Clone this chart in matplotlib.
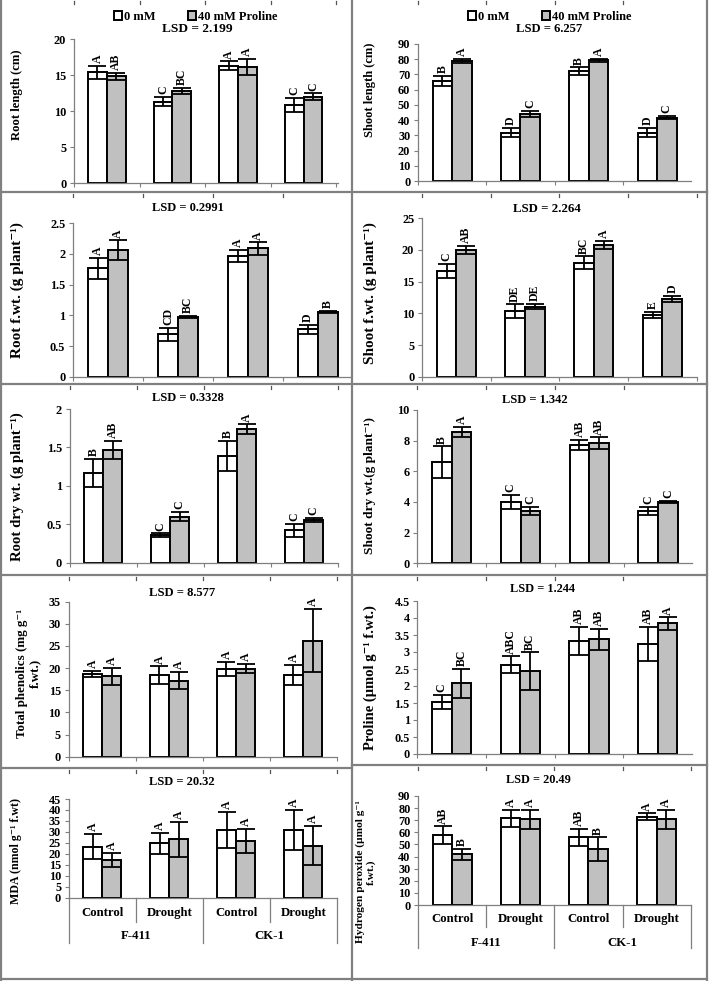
import matplotlib
matplotlib.use('Agg')
import matplotlib.pyplot as plt
from matplotlib.lines import Line2D
from matplotlib.ticker import FuncFormatter, FixedLocator, NullLocator
import matplotlib.transforms as mtrans
import numpy as np

plt.rcParams['font.family'] = ['Liberation Serif', 'DejaVu Serif']
plt.rcParams['font.weight'] = 'bold'

# ---------------- data ----------------
treatments = ['Control', 'Drought', 'Control', 'Drought']
varieties = ['F-411', 'CK-1']
series_names = ['0 mM', '40 mM Proline']

root_length_0 = [15.35, 11.3, 16.3, 10.8]
root_length_0_err = [0.95, 0.65, 0.6, 1.0]
root_length_40 = [14.8, 12.8, 16.1, 12.0]
root_length_40_err = [0.5, 0.45, 1.15, 0.45]
root_length_let_0 = ['A', 'C', 'A', 'C']
root_length_let_40 = ['AB', 'BC', 'A', 'C']

shoot_length_0 = [65.8, 31.8, 72.0, 31.8]
shoot_length_0_err = [3.3, 3.0, 2.6, 3.0]
shoot_length_40 = [78.6, 44.2, 79.2, 41.6]
shoot_length_40_err = [1.4, 2.0, 1.0, 1.0]
shoot_length_let_0 = ['B', 'D', 'B', 'D']
shoot_length_let_40 = ['A', 'C', 'A', 'C']

root_fwt_0 = [1.77, 0.69, 1.97, 0.77]
root_fwt_0_err = [0.17, 0.11, 0.10, 0.08]
root_fwt_40 = [2.06, 0.97, 2.09, 1.05]
root_fwt_40_err = [0.16, 0.02, 0.10, 0.02]
root_fwt_let_0 = ['A', 'CD', 'A', 'D']
root_fwt_let_40 = ['A', 'BC', 'A', 'B']

shoot_fwt_0 = [16.7, 10.3, 18.0, 9.75]
shoot_fwt_0_err = [1.1, 1.1, 1.0, 0.5]
shoot_fwt_40 = [20.0, 11.05, 20.8, 12.25]
shoot_fwt_40_err = [0.7, 0.4, 0.6, 0.5]
shoot_fwt_let_0 = ['C', 'DE', 'BC', 'E']
shoot_fwt_let_40 = ['AB', 'DE', 'A', 'D']

root_dwt_0 = [1.17, 0.36, 1.39, 0.42]
root_dwt_0_err = [0.18, 0.02, 0.20, 0.09]
root_dwt_40 = [1.465, 0.60, 1.74, 0.555]
root_dwt_40_err = [0.12, 0.06, 0.06, 0.03]
root_dwt_let_0 = ['B', 'C', 'B', 'C']
root_dwt_let_40 = ['AB', 'C', 'A', 'C']

shoot_dwt_0 = [6.59, 4.02, 7.72, 3.41]
shoot_dwt_0_err = [1.03, 0.46, 0.33, 0.25]
shoot_dwt_40 = [8.59, 3.43, 7.83, 3.98]
shoot_dwt_40_err = [0.33, 0.25, 0.38, 0.07]
shoot_dwt_let_0 = ['B', 'C', 'AB', 'C']
shoot_dwt_let_40 = ['A', 'C', 'AB', 'C']

phenolics_0 = [18.7, 18.4, 19.8, 18.4]
phenolics_0_err = [0.75, 2.0, 1.6, 2.25]
phenolics_40 = [18.2, 17.2, 19.9, 26.2]
phenolics_40_err = [1.9, 2.0, 1.05, 7.1]
phenolics_let_0 = ['A', 'A', 'A', 'A']
phenolics_let_40 = ['A', 'A', 'A', 'A']

proline_0 = [1.53, 2.62, 3.33, 3.24]
proline_0_err = [0.20, 0.25, 0.42, 0.51]
proline_40 = [2.08, 2.44, 3.37, 3.84]
proline_40_err = [0.43, 0.55, 0.30, 0.18]
proline_let_0 = ['C', 'ABC', 'AB', 'AB']
proline_let_40 = ['BC', 'BC', 'AB', 'A']

mda_0 = [23.3, 24.8, 30.9, 30.9]
mda_0_err = [5.7, 4.9, 8.2, 9.1]
mda_40 = [17.2, 26.6, 25.8, 23.7]
mda_40_err = [3.2, 8.1, 5.5, 9.0]
mda_let_0 = ['A', 'A', 'A', 'A']
mda_let_40 = ['A', 'A', 'A', 'A']

h2o2_0 = [57.8, 71.6, 55.9, 72.9]
h2o2_0_err = [7.2, 6.9, 7.0, 2.75]
h2o2_40 = [41.8, 70.7, 46.2, 70.7]
h2o2_40_err = [4.8, 7.8, 9.6, 7.6]
h2o2_let_0 = ['AB', 'A', 'AB', 'A']
h2o2_let_40 = ['B', 'A', 'B', 'A']

lsd_values = ['2.199', '6.257', '0.2991', '2.264', '0.3328', '1.342',
              '8.577', '1.244', '20.32', '20.49']

# ---------------- layout (pixels) ----------------
W, H = 709, 981
fig = plt.figure(figsize=(W / 100, H / 100), dpi=100)
fig.patch.set_facecolor('white')


def fx(x):
    return x / W


def fy(y):
    return 1 - y / H


GRAY_AX = '#7f7f7f'
BAR_GRAY = '#c0c0c0'

# yl = (center x, center y, fontsize); lsd = (center x, center y, fontsize)
panels = [
    dict(v0=root_length_0, e0=root_length_0_err, v1=root_length_40, e1=root_length_40_err,
         l0=root_length_let_0, l1=root_length_let_40, ylabel='Root length (cm)',
         L=74, s=65.6, R=338, y0=183, yt=39, ymax=20, step=5, lsd=(197, 29, 9.6),
         yl=(17, 95, 9.1), top=0, legend=(196, 17)),
    dict(v0=shoot_length_0, e0=shoot_length_0_err, v1=shoot_length_40, e1=shoot_length_40_err,
         l0=shoot_length_let_0, l1=shoot_length_let_40, ylabel='Shoot length (cm)',
         L=418, s=68.3, R=691, y0=181, yt=44, ymax=90, step=10, lsd=(549, 29, 9.1),
         yl=(370, 90, 9.0), top=0, legend=(550, 17)),
    dict(v0=root_fwt_0, e0=root_fwt_0_err, v1=root_fwt_40, e1=root_fwt_40_err,
         l0=root_fwt_let_0, l1=root_fwt_let_40, ylabel='Root f.wt. (g plant⁻¹)',
         L=73, s=70, R=351, y0=376.7, yt=223.3, ymax=2.5, step=0.5, lsd=(188, 208, 9.0),
         yl=(17, 290, 11.0), top=193),
    dict(v0=shoot_fwt_0, e0=shoot_fwt_0_err, v1=shoot_fwt_40, e1=shoot_fwt_40_err,
         l0=shoot_fwt_let_0, l1=shoot_fwt_let_40, ylabel='Shoot f.wt. (g plant⁻¹)',
         L=422, s=68.7, R=697, y0=376.7, yt=218.3, ymax=25, step=5, lsd=(547, 209, 9.3),
         yl=(370, 293, 11.0), top=193),
    dict(v0=root_dwt_0, e0=root_dwt_0_err, v1=root_dwt_40, e1=root_dwt_40_err,
         l0=root_dwt_let_0, l1=root_dwt_let_40, ylabel='Root dry wt. (g plant⁻¹)',
         L=69.5, s=67, R=337.5, y0=562.7, yt=409, ymax=2, step=0.5, lsd=(188, 398, 9.0),
         yl=(17, 487, 10.6), top=385),
    dict(v0=shoot_dwt_0, e0=shoot_dwt_0_err, v1=shoot_dwt_40, e1=shoot_dwt_40_err,
         l0=shoot_dwt_let_0, l1=shoot_dwt_let_40, ylabel='Shoot dry wt.(g plant⁻¹)',
         L=417.3, s=68.8, R=692, y0=563.3, yt=410, ymax=10, step=2, lsd=(535, 400, 9.0),
         yl=(370, 486, 9.6), top=385),
    dict(v0=phenolics_0, e0=phenolics_0_err, v1=phenolics_40, e1=phenolics_40_err,
         l0=phenolics_let_0, l1=phenolics_let_40,
         ylabel='Total phenolics (mg g⁻¹\nf.wt.)',
         L=68.5, s=67, R=336.5, y0=756.7, yt=601.7, ymax=35, step=5, lsd=(182, 593, 9.1),
         yl=(29, 673, 9.4), top=576),
    dict(v0=proline_0, e0=proline_0_err, v1=proline_40, e1=proline_40_err,
         l0=proline_let_0, l1=proline_let_40, ylabel='Proline (µmol g⁻¹ f.wt.)',
         L=417.3, s=68.7, R=692, y0=754, yt=601, ymax=4.5, step=0.5, lsd=(543, 589, 8.9),
         yl=(370, 678, 10.5), top=576),
    dict(v0=mda_0, e0=mda_0_err, v1=mda_40, e1=mda_40_err,
         l0=mda_let_0, l1=mda_let_40, ylabel='MDA (nmol g⁻¹ f.wt)',
         L=68.8, s=67, R=336.8, y0=897.7, yt=799, ymax=45, step=5, lsd=(182, 782, 9.0),
         yl=(16, 851, 8.6), top=769, cat=(913, 936, 922, 943)),
    dict(v0=h2o2_0, e0=h2o2_0_err, v1=h2o2_40, e1=h2o2_40_err,
         l0=h2o2_let_0, l1=h2o2_let_40,
         ylabel='Hydrogen peroxide (µmol g⁻¹\nf.wt.)',
         L=418.2, s=68.1, R=690.7, y0=905, yt=796, ymax=90, step=10, lsd=(538, 780, 8.8),
         yl=(366, 872, 8.2), top=766, cat=(919, 943, 927, 948)),
]

bw = 0.286
x = np.arange(len(treatments))

for i, p in enumerate(panels):
    L, R, s, y0, yt = p['L'], p['R'], p['s'], p['y0'], p['yt']
    ax = fig.add_axes([fx(L), fy(y0), fx(R) - fx(L), (y0 - yt) / H])
    ax.set_facecolor('none')
    ax.set_xlim(-0.5, -0.5 + (R - L) / s)
    ax.set_ylim(0, p['ymax'])

    ekw = dict(ecolor='black', elinewidth=1.3, capsize=6.3, capthick=1.3)
    b0 = ax.bar(x - bw / 2, p['v0'], bw, yerr=p['e0'], color='white', edgecolor='black',
                linewidth=1.4, error_kw=ekw, zorder=2)
    b1 = ax.bar(x + bw / 2, p['v1'], bw, yerr=p['e1'], color=BAR_GRAY, edgecolor='black',
                linewidth=1.4, error_kw=ekw, zorder=2)

    for xi, v, e, lt in zip(x - bw / 2, p['v0'], p['e0'], p['l0']):
        ax.annotate(lt, (xi, v + e), xytext=(0, 2), textcoords='offset points',
                    rotation=90, ha='center', va='bottom', fontsize=8.5, fontweight='bold',
                    annotation_clip=False)
    for xi, v, e, lt in zip(x + bw / 2, p['v1'], p['e1'], p['l1']):
        ax.annotate(lt, (xi, v + e), xytext=(0, 2), textcoords='offset points',
                    rotation=90, ha='center', va='bottom', fontsize=8.5, fontweight='bold',
                    annotation_clip=False)

    for sp in ['top', 'right']:
        ax.spines[sp].set_visible(False)
    for sp in ['left', 'bottom']:
        ax.spines[sp].set_color(GRAY_AX)
        ax.spines[sp].set_linewidth(0.9)

    ax.yaxis.set_major_locator(FixedLocator(np.arange(0, p['ymax'] + p['step'] / 2, p['step'])))
    ax.yaxis.set_major_formatter(FuncFormatter(lambda v, pos: f'{v:g}'))
    ax.tick_params(axis='y', direction='out', length=3, width=0.8, color=GRAY_AX,
                   labelsize=8.8, pad=2.5)
    for lab in ax.get_yticklabels():
        lab.set_fontweight('bold')

    bounds = [b for b in np.arange(-0.5, 4.0, 1.0) if b <= ax.get_xlim()[1] + 1e-6]
    ax.xaxis.set_major_locator(NullLocator())
    if 'cat' not in p:
        ax.xaxis.set_minor_locator(FixedLocator(bounds))
        ax.tick_params(axis='x', which='minor', direction='out', length=3, width=0.8,
                       color=GRAY_AX)
    else:
        ax.xaxis.set_minor_locator(NullLocator())
        cy, gy, inner_end, outer_end = p['cat']
        bt = mtrans.blended_transform_factory(ax.transData, fig.transFigure)
        for xi, ct in zip(x, treatments):
            ax.text(xi, fy(cy), ct, transform=bt, ha='center', va='center',
                    fontsize=9.2, fontweight='bold')
        for gi, g in enumerate(varieties):
            ax.text(0.5 + 2 * gi, fy(gy), g, transform=bt, ha='center', va='center',
                    fontsize=9.2, fontweight='bold')
        for k, b in enumerate(bounds):
            end = outer_end if k % 2 == 0 else inner_end
            fig.add_artist(Line2D([b, b], [fy(y0), fy(end)], transform=bt,
                                  color=GRAY_AX, lw=0.9))

    # tick marks at the top of each panel (remnant of cropped axis)
    bt = mtrans.blended_transform_factory(ax.transData, fig.transFigure)
    for b in bounds:
        fig.add_artist(Line2D([b, b], [fy(p['top'] + 1), fy(p['top'] + 4)], transform=bt,
                              color='#555555', lw=0.9))

    # y label
    fig.text(fx(p['yl'][0]), fy(p['yl'][1]), p['ylabel'], rotation=90, ha='center',
             va='center', fontsize=p['yl'][2], fontweight='bold', multialignment='center',
             linespacing=1.15)

    # LSD
    fig.text(fx(p['lsd'][0]), fy(p['lsd'][1]), 'LSD = ' + lsd_values[i], ha='center',
             va='center', fontsize=p['lsd'][2], fontweight='bold')

    if 'legend' in p:
        ax.legend([b0, b1], series_names, loc='center',
                  bbox_to_anchor=(fx(p['legend'][0]), fy(p['legend'][1])),
                  bbox_transform=fig.transFigure, ncol=2, frameon=False,
                  prop=dict(size=9, weight='bold'), handlelength=0.65, handleheight=0.65,
                  handletextpad=0.15, columnspacing=2.6, borderpad=0, borderaxespad=0)

# ---------------- panel frame lines ----------------
BORDER = '#808080'


def hline(y, x0, x1, lw=1.6):
    fig.add_artist(Line2D([fx(x0), fx(x1)], [fy(y), fy(y)], transform=fig.transFigure,
                          color=BORDER, lw=lw))


def vline(x_, y0_, y1_, lw=1.6):
    fig.add_artist(Line2D([fx(x_), fx(x_)], [fy(y0_), fy(y1_)], transform=fig.transFigure,
                          color=BORDER, lw=lw))


vline(1, 0, 980)
vline(707, 0, 980)
vline(352, 0, 980)
hline(192, 1, 707)
hline(384, 1, 707)
hline(575, 1, 707)
hline(768, 1, 352)
hline(765, 352, 707)
hline(979, 1, 707)

fig.savefig('out.png', dpi=100, facecolor='white')
